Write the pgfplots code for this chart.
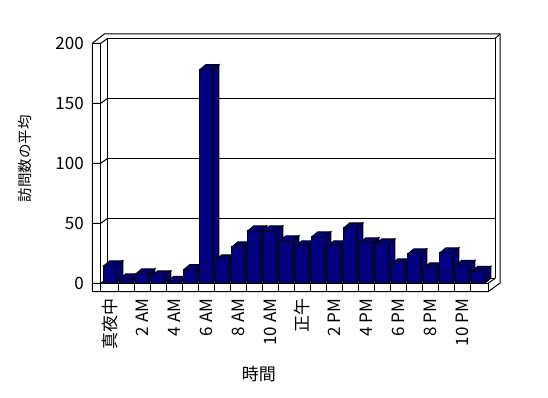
\documentclass[border=0pt]{standalone}
\usepackage{fontspec}
\setmainfont{Noto Sans CJK JP}
\usepackage{pgfplots}
\usepackage{pgfplotstable}
\pgfplotsset{compat=1.18}
\definecolor{barnavy}{RGB}{0,0,128}

\pgfplotstableread{
h v
0 14.5
1 3.7
2 7.8
3 6.2
4 1.7
5 11.4
6 178
7 19.5
8 30.3
9 43.7
10 43.7
11 35.3
12 31.2
13 38.7
14 31.2
15 46.2
16 33.7
17 32.8
18 16.2
19 24.5
20 12.8
21 25.3
22 15
23 10
}\visits

\begin{document}
\begin{tikzpicture}
\useasboundingbox (0,0) rectangle (548pt,398pt);
% 3D frame (walls and floor), drawn in image pixel coordinates
\begin{scope}[x=1pt,y=-1pt,shift={(0pt,398pt)},line width=1pt,black,line join=miter]
  % outer silhouette
  \draw (92.3,291.7) -- (92.3,43.3) -- (104.3,34) -- (500,34) -- (500,283.1) -- (488,291.7) -- cycle;
  % left wall inner edge
  \draw (100.7,43.3) -- (100.7,291.7);
  % back wall inner face
  \draw (107.7,278.3) -- (107.7,38.3) -- (495.3,38.3) -- (495.3,278.3);
  \draw (495.3,38.3) -- (500,34);
  % gridlines on back wall
  \foreach \v in {50,100,150} {
    \draw (107.7,{278.3-1.2*\v}) -- (495.3,{278.3-1.2*\v});
  }
  % ticks across left wall
  \foreach \v in {0,50,100,150,200} {
    \draw (92.3,{283.3-1.2*\v}) -- (100.7,{283.3-1.2*\v}) -- (107.7,{278.3-1.2*\v});
  }
  % floor
  \draw (100.7,283.3) -- (488,283.3) -- (488,291.7);
  \draw (488,283.3) -- (495.3,278.3);
  \draw (107.7,278.3) -- (495.3,278.3);
  \foreach \k in {0,...,22} {
    \draw ({118.3+16*\k},283.3) -- ({118.3+16*\k},291.7);
  }
\end{scope}

\begin{axis}[
  at={(102.3pt,114.7pt)}, anchor=south west,
  scale only axis, width=384pt, height=240pt,
  xmin=-0.5, xmax=23.5, ymin=0, ymax=200,
  clip=false,
  axis line style={draw=none},
  major tick length=0pt,
  /pgf/number format/assume math mode=true,
  ytick={0,50,100,150,200},
  yticklabels={0,50,100,150,200},
  xtick={0,2,...,22},
  xticklabels={真夜中,2 AM,4 AM,6 AM,8 AM,10 AM,正午,2 PM,4 PM,6 PM,8 PM,10 PM},
  tick label style={font=\fontsize{17}{17}\selectfont},
  yticklabel style={anchor=east, xshift=-15pt},
  xticklabel style={yshift=-12pt, rotate=90, anchor=east},
  xlabel={\fontsize{17}{17}\selectfont 時間},
  ylabel={\fontsize{14.5}{14.5}\selectfont 訪問数の平均},
  every axis x label/.style={at={(axis description cs:0.408,-0.378)}, anchor=center},
  every axis y label/.style={at={(axis description cs:-0.200,0.518)}, rotate=90, anchor=center},
  bar3d/.style={fill=barnavy, draw=black, line width=1pt, mark=none, forget plot},
]
\pgfplotsinvokeforeach{0,...,23}{%
  \pgfplotstablegetelem{#1}{v}\of\visits
  \pgfmathsetmacro\va{\pgfplotsretval}%
  \pgfmathsetmacro\vt{\pgfplotsretval+4.1667}%
  \pgfmathsetmacro\xl{#1-0.40625}%
  \pgfmathsetmacro\xr{#1+0.40625}%
  \pgfmathsetmacro\xrb{#1+0.78125}%
  \pgfmathsetmacro\xlb{#1-0.03125}%
  \edef\temp{%
    \noexpand\addplot[bar3d] coordinates {(\xr,0) (\xrb,4.1667) (\xrb,\vt) (\xr,\va)} -- cycle;
    \noexpand\addplot[bar3d] coordinates {(\xl,\va) (\xr,\va) (\xrb,\vt) (\xlb,\vt)} -- cycle;
    \noexpand\addplot[bar3d] coordinates {(\xl,0) (\xr,0) (\xr,\va) (\xl,\va)} -- cycle;
  }%
  \temp
}
\end{axis}
\end{tikzpicture}
\end{document}
